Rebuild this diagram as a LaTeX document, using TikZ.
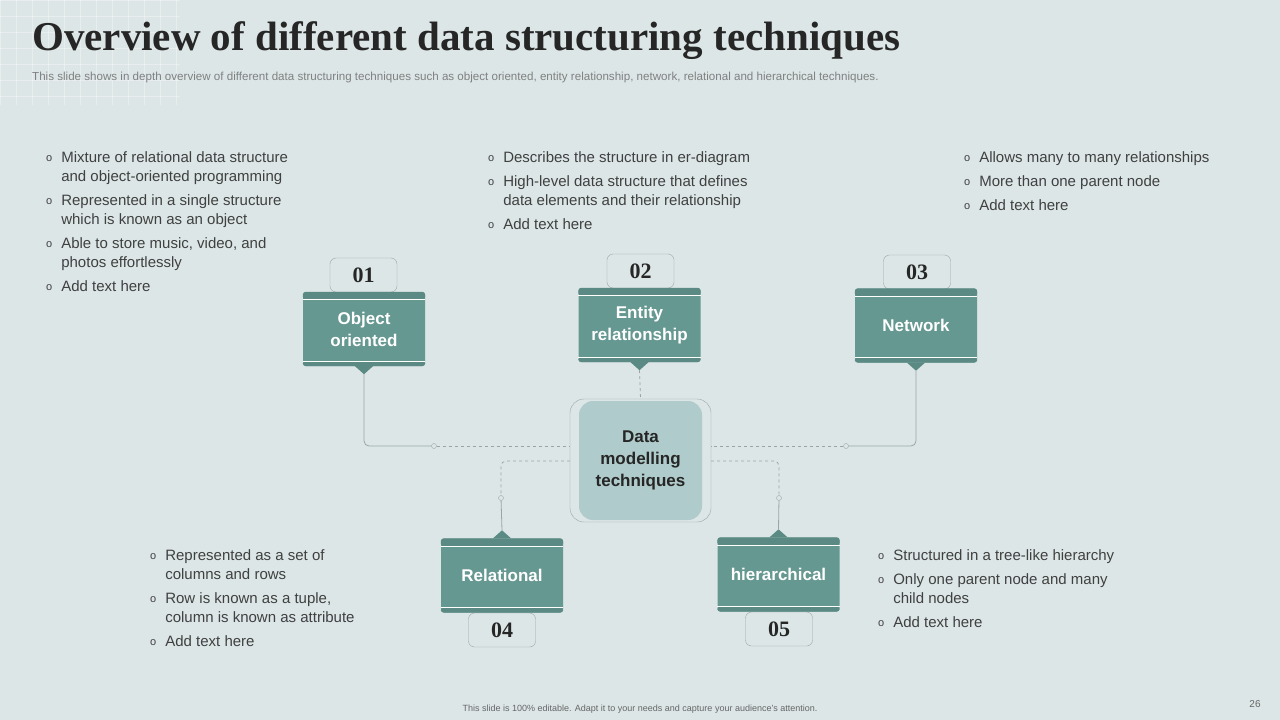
\documentclass[tikz,border=0pt]{standalone}
\usepackage{fontspec}
\usepackage{array}
\setmainfont{Liberation Sans}
\newfontfamily\titlefont{Liberation Serif}
\usetikzlibrary{positioning}
\definecolor{slidebg}{HTML}{DCE6E6}
\definecolor{teal}{HTML}{669892}
\definecolor{tealdark}{HTML}{5B8A84}
\definecolor{hubfill}{HTML}{B0CBCB}
\definecolor{bodytext}{HTML}{404040}
\definecolor{wire}{HTML}{9AA6A6}
\tikzset{
	techbox/.style={rectangle, rounded corners=3pt, fill=teal, text=white, font=\fontsize{17}{22}\selectfont\bfseries,
		minimum width=122pt, minimum height=74pt, align=center, text width=115pt},
	numtab/.style={rectangle, rounded corners=6pt, draw=wire, fill=slidebg, minimum width=67pt, minimum height=34pt,
		font=\titlefont\fontsize{22}{24}\selectfont\bfseries, text=black!85},
	notes/.style={text=bodytext, font=\fontsize{15}{19}\selectfont, anchor=north west, inner sep=0pt},
	solidwire/.style={draw=wire, line width=0.8pt, rounded corners=5pt},
	dashwire/.style={draw=wire, line width=0.8pt, dashed, rounded corners=5pt},
	knot/.style={circle, draw=wire, fill=slidebg, inner sep=0pt, minimum size=5pt}
}
\newcommand{\bulletlist}[2]{\begin{tabular}{@{}l@{\hspace{9pt}}>{\raggedright\arraybackslash}p{#1}@{}}#2\end{tabular}}
\newcommand{\bl}{\raisebox{1pt}{\fontsize{11}{11}\selectfont o}}
\newcommand{\nx}{\\\noalign{\vskip5pt}}
\begin{document}
\begin{tikzpicture}[x=1pt,y=-1pt]
\fill[slidebg] (0,0) rectangle (1280,720);
\useasboundingbox (0,0) rectangle (1280,720);
% grid in the corner
\foreach \i in {0,...,11} \draw[white, opacity=0.35, line width=0.6pt] (\i*16,0) -- (\i*16,105);
\foreach \j in {0,...,6} \draw[white, opacity=0.35, line width=0.6pt] (0,\j*16) -- (180,\j*16);
% heading
\node[anchor=base west, inner sep=0pt, text=black!85] (title) at (32,50) {\titlefont\fontsize{41}{44}\selectfont\bfseries Overview of different data structuring techniques};
\node[anchor=base west, inner sep=0pt, text=black!50] (subtitle) at (32,80) {\fontsize{11.6}{13}\selectfont This slide shows in depth overview of different data structuring techniques such as object oriented, entity relationship, network, relational and hierarchical techniques.};
% number tabs
\node[numtab] (t1) at (363.5,275) {01};
\node[numtab] (t2) at (640.5,271) {02};
\node[numtab] (t3) at (917,272) {03};
\node[numtab] (t4) at (502,630) {04};
\node[numtab] (t5) at (779,629) {05};
% technique boxes
\node[techbox] (obj) at (364,329) {Object\\oriented};
\node[techbox] (ent) at (639.5,325) {Entity\\relationship};
\node[techbox] (net) at (916,325.5) {Network};
\node[techbox] (rel) at (502,575.5) {Relational};
\node[techbox] (hie) at (778.5,574.5) {hierarchical};
\foreach \b in {obj,ent,net,rel,hie} {
	\fill[tealdark, rounded corners=3pt] (\b.north west) rectangle ([yshift=-8pt]\b.north east);
	\fill[tealdark, rounded corners=3pt] (\b.south west) rectangle ([yshift=5pt]\b.south east);
	\draw[white, line width=0.8pt] ([yshift=-8pt]\b.north west) -- ([yshift=-8pt]\b.north east);
	\draw[white, line width=0.8pt] ([yshift=5pt]\b.south west) -- ([yshift=5pt]\b.south east);
}
\foreach \b in {obj,ent,net} \fill[tealdark] ([xshift=-9pt]\b.south) -- ([xshift=9pt]\b.south) -- ([yshift=-8pt]\b.south) -- cycle;
\foreach \b in {rel,hie} \fill[tealdark] ([xshift=-9pt]\b.north) -- ([xshift=9pt]\b.north) -- ([yshift=8pt]\b.north) -- cycle;
% hub
\node[rectangle, rounded corners=14pt, draw=wire, minimum width=141pt, minimum height=123pt] (hubring) at (640.5,460.5) {};
\node[rectangle, rounded corners=14pt, fill=hubfill, minimum width=123pt, minimum height=119pt, align=center,
	font=\fontsize{17}{22}\selectfont\bfseries, text=black!85] (hub) at (640.5,460.5) {Data\\modelling\\techniques};
% wires
\node[knot] (k1) at (434,446) {};
\node[knot] (k3) at (846,446) {};
\node[knot] (k4) at (501,498) {};
\node[knot] (k5) at (779,498) {};
\draw[solidwire] ([yshift=-8pt]obj.south) |- (k1);
\draw[dashwire] (k1) -- (k1 -| hubring.west);
\draw[solidwire] ([yshift=-8pt]net.south) |- (k3);
\draw[dashwire] (k3) -- (k3 -| hubring.east);
\draw[dashwire] ([yshift=-8pt]ent.south) -- (hubring.north);
\draw[dashwire] (570,461) -| (k4);
\draw[solidwire] (k4) -- ([yshift=8pt]rel.north);
\draw[dashwire] (711,461) -| (k5);
\draw[solidwire] (k5) -- ([yshift=8pt]hie.north);
% notes
\node[notes] (n1) at (46,149) {\bulletlist{245pt}{\bl & Mixture of relational data structure and object-oriented programming\nx
	\bl & Represented in a single structure which is known as an object\nx
	\bl & Able to store music, video, and photos effortlessly\nx
	\bl & Add text here}};
\node[notes] (n2) at (488,149) {\bulletlist{270pt}{\bl & Describes the structure in er-diagram\nx
	\bl & High-level data structure that defines data elements and their relationship\nx
	\bl & Add text here}};
\node[notes] (n3) at (964,149) {\bulletlist{270pt}{\bl & Allows many to many relationships\nx
	\bl & More than one parent node\nx
	\bl & Add text here}};
\node[notes] (n4) at (150,547) {\bulletlist{210pt}{\bl & Represented as a set of columns and rows\nx
	\bl & Row is known as a tuple, column is known as attribute\nx
	\bl & Add text here}};
\node[notes] (n5) at (878,547) {\bulletlist{245pt}{\bl & Structured in a tree-like hierarchy\nx
	\bl & Only one parent node and many child nodes\nx
	\bl & Add text here}};
% footer
\node[text=black!60, font=\fontsize{9}{10}\selectfont] (foot) at (640,709) {This slide is 100\% editable. Adapt it to your needs and capture your audience's attention.};
\node[text=black!60, font=\fontsize{10}{11}\selectfont] (page) at (1255,704) {26};
\end{tikzpicture}
\end{document}
